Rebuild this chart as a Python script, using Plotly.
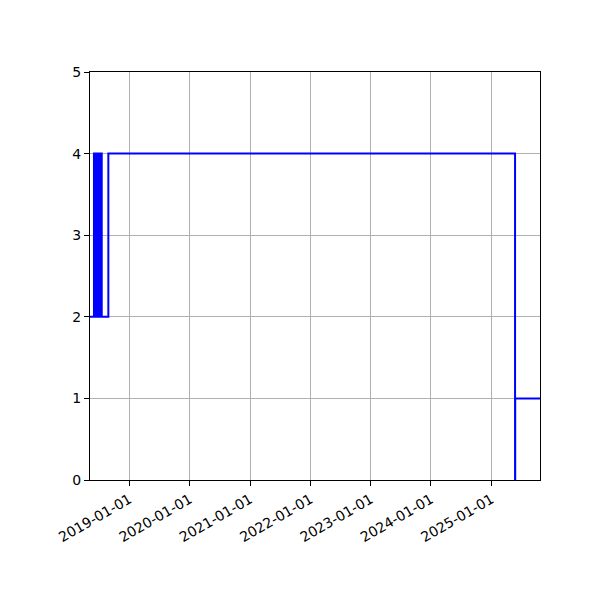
import plotly.graph_objects as go

# step series
dates = [
    "2018-05-08", "2018-06-01", "2018-06-04", "2018-06-05", "2018-06-07",
    "2018-06-09", "2018-06-11", "2018-06-13", "2018-06-15", "2018-06-17",
    "2018-06-19", "2018-06-21", "2018-06-23", "2018-06-25", "2018-06-27",
    "2018-06-29", "2018-07-01", "2018-07-03", "2018-07-05", "2018-07-07",
    "2018-07-09", "2018-07-11", "2018-07-13", "2018-07-15", "2018-07-18",
    "2018-08-27", "2025-05-24", "2025-05-25", "2025-10-22",
]
values = [
    2, 4, 2, 4, 2,
    4, 2, 4, 2, 4,
    2, 4, 2, 4, 2,
    4, 2, 4, 2, 4,
    2, 4, 2, 4, 2,
    4, 0, 1, 1,
]

tick_dates = ["2019-01-01", "2020-01-01", "2021-01-01", "2022-01-01",
              "2023-01-01", "2024-01-01", "2025-01-01"]
y_ticks = [0, 1, 2, 3, 4, 5]

fig = go.Figure()
fig.add_trace(go.Scatter(x=dates, y=values, mode="lines", line_shape="hv",
                         line=dict(color="#0000ff", width=2), showlegend=False))

axis_style = dict(showline=True, linecolor="black", linewidth=1, mirror=True,
                  showgrid=True, gridcolor="#b0b0b0", gridwidth=1,
                  ticks="outside", ticklen=5, tickcolor="black",
                  zeroline=False, tickfont=dict(family="DejaVu Sans", size=14, color="black"))

fig.update_xaxes(range=["2018-05-08", "2025-10-22"], tickvals=tick_dates, ticktext=tick_dates,
                 tickangle=-30, **axis_style)
fig.update_yaxes(range=[0, 5], tickvals=y_ticks, **axis_style)

fig.update_layout(width=600, height=600, plot_bgcolor="white", paper_bgcolor="white",
                  margin=dict(l=82, r=68, t=64, b=128))

fig.write_html("out.html")
